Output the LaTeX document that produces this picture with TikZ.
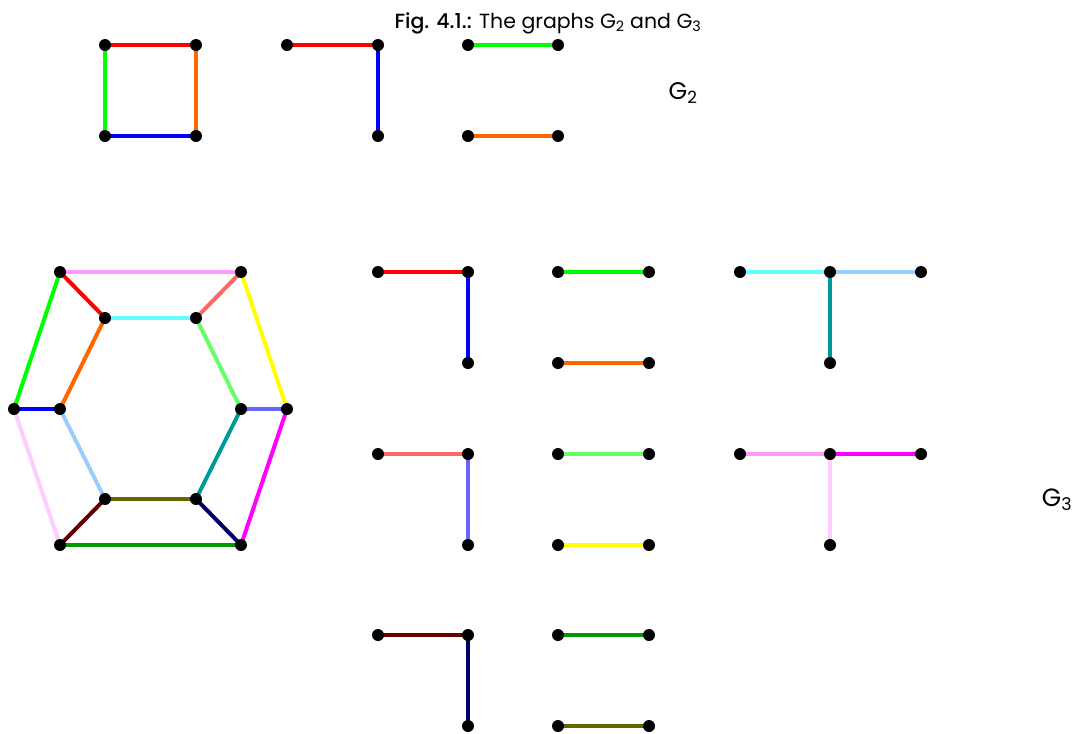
\documentclass[tikz,border=0pt]{standalone}
\usepackage{fontspec}
\setmainfont{Poppins}
\definecolor{cRed}{HTML}{FF0000}
\definecolor{cOrange}{HTML}{FF6600}
\definecolor{cBlue}{HTML}{0000FF}
\definecolor{cGreen}{HTML}{00FF00}
\definecolor{cPinkA}{HTML}{FF99FF}
\definecolor{cSalmon}{HTML}{FF6666}
\definecolor{cYellow}{HTML}{FFFF00}
\definecolor{cCyan}{HTML}{66FFFF}
\definecolor{cLGreen}{HTML}{66FF66}
\definecolor{cLPurple}{HTML}{6666FF}
\definecolor{cPinkB}{HTML}{FFCCFF}
\definecolor{cLBlue}{HTML}{99CCFF}
\definecolor{cTeal}{HTML}{009999}
\definecolor{cMagenta}{HTML}{FF00FF}
\definecolor{cOlive}{HTML}{666600}
\definecolor{cMaroon}{HTML}{660000}
\definecolor{cNavy}{HTML}{000066}
\definecolor{cDGreen}{HTML}{009900}
\begin{document}
\begin{tikzpicture}[x=1pt,y=-1pt,
  vtx/.style={circle,fill=black,inner sep=0pt,minimum size=12pt},
  edg/.style={line width=4pt}]
\useasboundingbox (0,0) rectangle (1080,734);
\node (title) at (548,23) {\fontsize{20.5}{24}\selectfont{\fontspec{Poppins Medium}Fig. 4.1.:} The graphs G\textsubscript{2} and G\textsubscript{3}};
\node (lG2) at (683,93) {\fontsize{24}{28}\selectfont G\textsubscript{2}};
\node (lG3) at (1057,500) {\fontsize{25}{29}\selectfont G\textsubscript{3}};
% ---- G2 ----
\foreach \n/\x/\y in {a1/105/45,a2/196/45,a3/105/136,a4/196/136,
  b1/287/45,b2/378/45,b3/378/136,
  c1/468/45,c2/558/45,c3/468/136,c4/558/136}
  \coordinate (\n) at (\x,\y);
\draw[edg,cRed] (a1) -- (a2);
\draw[edg,cOrange] (a2) -- (a4);
\draw[edg,cBlue] (a3) -- (a4);
\draw[edg,cGreen] (a1) -- (a3);
\draw[edg,cRed] (b1) -- (b2);
\draw[edg,cBlue] (b2) -- (b3);
\draw[edg,cGreen] (c1) -- (c2);
\draw[edg,cOrange] (c3) -- (c4);
% ---- G3 hexagon ----
\foreach \n/\x/\y in {o1/60/272,o2/241/272,o3/287/409,o4/241/545,o5/60/545,o6/14/409,
  i1/105/318,i2/196/318,i3/241/409,i4/196/499,i5/105/499,i6/60/409}
  \coordinate (\n) at (\x,\y);
\draw[edg,cPinkA] (o1) -- (o2);
\draw[edg,cRed] (o1) -- (i1);
\draw[edg,cSalmon] (o2) -- (i2);
\draw[edg,cYellow] (o2) -- (o3);
\draw[edg,cGreen] (o1) -- (o6);
\draw[edg,cCyan] (i1) -- (i2);
\draw[edg,cOrange] (i1) -- (i6);
\draw[edg,cLGreen] (i2) -- (i3);
\draw[edg,cBlue] (o6) -- (i6);
\draw[edg,cLPurple] (i3) -- (o3);
\draw[edg,cPinkB] (o6) -- (o5);
\draw[edg,cLBlue] (i6) -- (i5);
\draw[edg,cTeal] (i3) -- (i4);
\draw[edg,cMagenta] (o3) -- (o4);
\draw[edg,cOlive] (i5) -- (i4);
\draw[edg,cMaroon] (i5) -- (o5);
\draw[edg,cNavy] (i4) -- (o4);
\draw[edg,cDGreen] (o5) -- (o4);
% ---- G3 decomposition ----
\foreach \n/\x/\y in {
  p1/378/272,p2/468/272,p3/468/363,
  q1/558/272,q2/649/272,q3/558/363,q4/649/363,
  r1/740/272,r2/830/272,r3/921/272,r4/830/363,
  s1/378/454,s2/468/454,s3/468/545,
  t1/558/454,t2/649/454,t3/558/545,t4/649/545,
  u1/740/454,u2/830/454,u3/921/454,u4/830/545,
  v1/378/635,v2/468/635,v3/468/726,
  w1/558/635,w2/649/635,w3/558/726,w4/649/726}
  \coordinate (\n) at (\x,\y);
\draw[edg,cRed] (p1) -- (p2);
\draw[edg,cBlue] (p2) -- (p3);
\draw[edg,cGreen] (q1) -- (q2);
\draw[edg,cOrange] (q3) -- (q4);
\draw[edg,cCyan] (r1) -- (r2);
\draw[edg,cLBlue] (r2) -- (r3);
\draw[edg,cTeal] (r2) -- (r4);
\draw[edg,cSalmon] (s1) -- (s2);
\draw[edg,cLPurple] (s2) -- (s3);
\draw[edg,cLGreen] (t1) -- (t2);
\draw[edg,cYellow] (t3) -- (t4);
\draw[edg,cPinkA] (u1) -- (u2);
\draw[edg,cMagenta] (u2) -- (u3);
\draw[edg,cPinkB] (u2) -- (u4);
\draw[edg,cMaroon] (v1) -- (v2);
\draw[edg,cNavy] (v2) -- (v3);
\draw[edg,cDGreen] (w1) -- (w2);
\draw[edg,cOlive] (w3) -- (w4);
% ---- vertices ----
\foreach \n in {a1,a2,a3,a4,b1,b2,b3,c1,c2,c3,c4,
  o1,o2,o3,o4,o5,o6,i1,i2,i3,i4,i5,i6,
  p1,p2,p3,q1,q2,q3,q4,r1,r2,r3,r4,s1,s2,s3,t1,t2,t3,t4,
  u1,u2,u3,u4,v1,v2,v3,w1,w2,w3,w4}
  \node[vtx] (d\n) at (\n) {};
\end{tikzpicture}
\end{document}
